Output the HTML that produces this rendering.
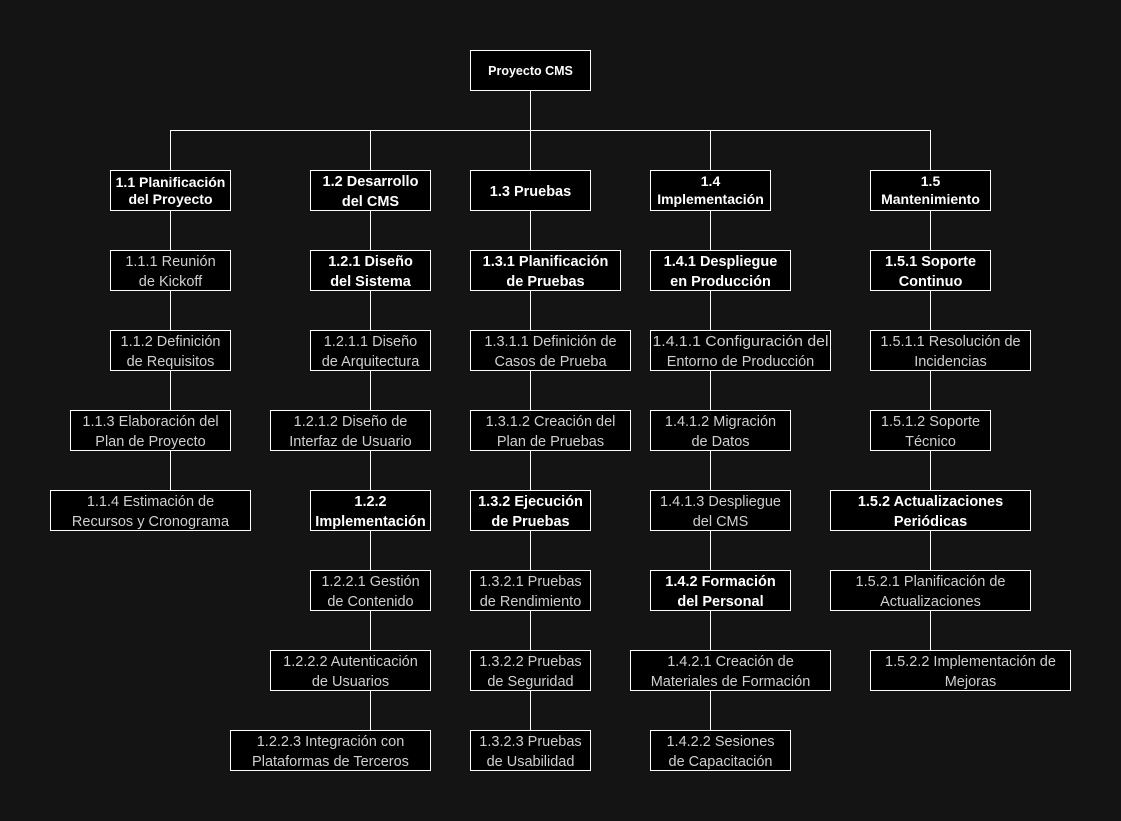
<!DOCTYPE html>
<html><head><meta charset="utf-8"><style>
html,body{margin:0;padding:0;background:#141414;}
svg{display:block;}
text{font-family:"Liberation Sans",sans-serif;text-anchor:middle;}
.n{fill:#d0d0d0;font-size:14.5px;}
.b{fill:#fff;font-size:14.5px;font-weight:bold;}
.s{fill:#fff;font-size:14px;font-weight:bold;}
.r{fill:#fff;font-size:12.5px;font-weight:bold;}
rect{fill:#000;stroke:#fff;stroke-width:1;}
line{stroke:#fff;stroke-width:1;}
</style></head><body>
<svg width="1121" height="821" viewBox="0 0 1121 821">
<line x1="530.5" y1="90" x2="530.5" y2="130"/>
<line x1="170.5" y1="130.5" x2="930.5" y2="130.5"/>
<line x1="170.5" y1="130" x2="170.5" y2="490"/>
<line x1="370.5" y1="130" x2="370.5" y2="730"/>
<line x1="530.5" y1="130" x2="530.5" y2="730"/>
<line x1="710.5" y1="130" x2="710.5" y2="730"/>
<line x1="930.5" y1="130" x2="930.5" y2="650"/>

<rect x="470.5" y="50.5" width="120" height="40"/><text class="r" x="530.5" y="75">Proyecto CMS</text>

<rect x="110.5" y="170.5" width="120" height="40"/><text class="s" x="170.5" y="187">1.1 Planificación</text><text class="s" x="170.5" y="204">del Proyecto</text>
<rect x="310.5" y="170.5" width="120" height="40"/><text class="b" x="370.5" y="186">1.2 Desarrollo</text><text class="b" x="370.5" y="206">del CMS</text>
<rect x="470.5" y="170.5" width="120" height="40"/><text class="b" x="530.5" y="196">1.3 Pruebas</text>
<rect x="650.5" y="170.5" width="120" height="40"/><text class="s" x="710.5" y="186">1.4</text><text class="s" x="710.5" y="204">Implementación</text>
<rect x="870.5" y="170.5" width="120" height="40"/><text class="s" x="930.5" y="186">1.5</text><text class="s" x="930.5" y="204">Mantenimiento</text>

<rect x="110.5" y="250.5" width="120" height="40"/><text class="n" x="170.5" y="266">1.1.1 Reunión</text><text class="n" x="170.5" y="286">de Kickoff</text>
<rect x="110.5" y="330.5" width="120" height="40"/><text class="n" x="170.5" y="346">1.1.2 Definición</text><text class="n" x="170.5" y="366">de Requisitos</text>
<rect x="70.5" y="410.5" width="160" height="40"/><text class="n" x="150.5" y="426">1.1.3 Elaboración del</text><text class="n" x="150.5" y="446">Plan de Proyecto</text>
<rect x="50.5" y="490.5" width="200" height="40"/><text class="n" x="150.5" y="506">1.1.4 Estimación de</text><text class="n" x="150.5" y="526">Recursos y Cronograma</text>

<rect x="310.5" y="250.5" width="120" height="40"/><text class="b" x="370.5" y="266">1.2.1 Diseño</text><text class="b" x="370.5" y="286">del Sistema</text>
<rect x="310.5" y="330.5" width="120" height="40"/><text class="n" x="370.5" y="346">1.2.1.1 Diseño</text><text class="n" x="370.5" y="366">de Arquitectura</text>
<rect x="270.5" y="410.5" width="160" height="40"/><text class="n" x="350.5" y="426">1.2.1.2 Diseño de</text><text class="n" x="350.5" y="446">Interfaz de Usuario</text>
<rect x="310.5" y="490.5" width="120" height="40"/><text class="b" x="370.5" y="506">1.2.2</text><text class="b" x="370.5" y="526">Implementación</text>
<rect x="310.5" y="570.5" width="120" height="40"/><text class="n" x="370.5" y="586">1.2.2.1 Gestión</text><text class="n" x="370.5" y="606">de Contenido</text>
<rect x="270.5" y="650.5" width="160" height="40"/><text class="n" x="350.5" y="666">1.2.2.2 Autenticación</text><text class="n" x="350.5" y="686">de Usuarios</text>
<rect x="230.5" y="730.5" width="200" height="40"/><text class="n" x="330.5" y="746">1.2.2.3 Integración con</text><text class="n" x="330.5" y="766">Plataformas de Terceros</text>

<rect x="470.5" y="250.5" width="150" height="40"/><text class="b" x="545.5" y="266">1.3.1 Planificación</text><text class="b" x="545.5" y="286">de Pruebas</text>
<rect x="470.5" y="330.5" width="160" height="40"/><text class="n" x="550.5" y="346">1.3.1.1 Definición de</text><text class="n" x="550.5" y="366">Casos de Prueba</text>
<rect x="470.5" y="410.5" width="160" height="40"/><text class="n" x="550.5" y="426">1.3.1.2 Creación del</text><text class="n" x="550.5" y="446">Plan de Pruebas</text>
<rect x="470.5" y="490.5" width="120" height="40"/><text class="b" x="530.5" y="506">1.3.2 Ejecución</text><text class="b" x="530.5" y="526">de Pruebas</text>
<rect x="470.5" y="570.5" width="120" height="40"/><text class="n" x="530.5" y="586">1.3.2.1 Pruebas</text><text class="n" x="530.5" y="606">de Rendimiento</text>
<rect x="470.5" y="650.5" width="120" height="40"/><text class="n" x="530.5" y="666">1.3.2.2 Pruebas</text><text class="n" x="530.5" y="686">de Seguridad</text>
<rect x="470.5" y="730.5" width="120" height="40"/><text class="n" x="530.5" y="746">1.3.2.3 Pruebas</text><text class="n" x="530.5" y="766">de Usabilidad</text>

<rect x="650.5" y="250.5" width="140" height="40"/><text class="b" x="720.5" y="266">1.4.1 Despliegue</text><text class="b" x="720.5" y="286">en Producción</text>
<rect x="650.5" y="330.5" width="180" height="40"/><text class="n" x="740.5" y="346" textLength="176" lengthAdjust="spacingAndGlyphs">1.4.1.1 Configuración del</text><text class="n" x="740.5" y="366">Entorno de Producción</text>
<rect x="650.5" y="410.5" width="140" height="40"/><text class="n" x="720.5" y="426">1.4.1.2 Migración</text><text class="n" x="720.5" y="446">de Datos</text>
<rect x="650.5" y="490.5" width="140" height="40"/><text class="n" x="720.5" y="506">1.4.1.3 Despliegue</text><text class="n" x="720.5" y="526">del CMS</text>
<rect x="650.5" y="570.5" width="140" height="40"/><text class="b" x="720.5" y="586">1.4.2 Formación</text><text class="b" x="720.5" y="606">del Personal</text>
<rect x="630.5" y="650.5" width="200" height="40"/><text class="n" x="730.5" y="666">1.4.2.1 Creación de</text><text class="n" x="730.5" y="686">Materiales de Formación</text>
<rect x="650.5" y="730.5" width="140" height="40"/><text class="n" x="720.5" y="746">1.4.2.2 Sesiones</text><text class="n" x="720.5" y="766">de Capacitación</text>

<rect x="870.5" y="250.5" width="120" height="40"/><text class="b" x="930.5" y="266">1.5.1 Soporte</text><text class="b" x="930.5" y="286">Continuo</text>
<rect x="870.5" y="330.5" width="160" height="40"/><text class="n" x="950.5" y="346">1.5.1.1 Resolución de</text><text class="n" x="950.5" y="366">Incidencias</text>
<rect x="870.5" y="410.5" width="120" height="40"/><text class="n" x="930.5" y="426">1.5.1.2 Soporte</text><text class="n" x="930.5" y="446">Técnico</text>
<rect x="830.5" y="490.5" width="200" height="40"/><text class="b" x="930.5" y="506">1.5.2 Actualizaciones</text><text class="b" x="930.5" y="526">Periódicas</text>
<rect x="830.5" y="570.5" width="200" height="40"/><text class="n" x="930.5" y="586">1.5.2.1 Planificación de</text><text class="n" x="930.5" y="606">Actualizaciones</text>
<rect x="870.5" y="650.5" width="200" height="40"/><text class="n" x="970.5" y="666">1.5.2.2 Implementación de</text><text class="n" x="970.5" y="686">Mejoras</text>
</svg>
</body></html>
